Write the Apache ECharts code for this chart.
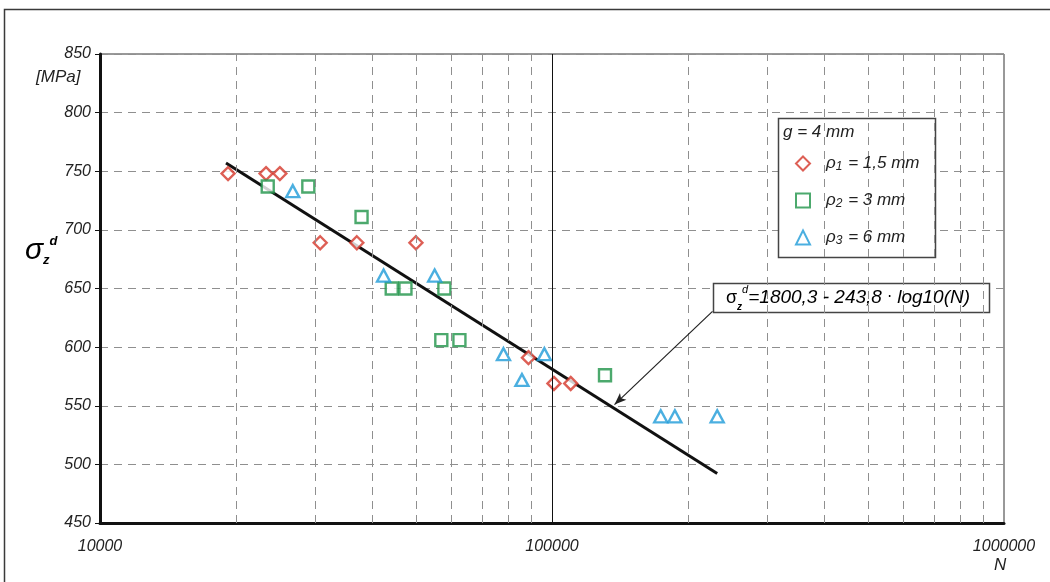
<!DOCTYPE html>
<html>
<head>
<meta charset="utf-8">
<script src="https://cdn.jsdelivr.net/npm/echarts@6/dist/echarts.min.js"></script>
<style>
  html, body { margin: 0; padding: 0; background: #fff; }
  #chart { width: 1050px; height: 582px; }
</style>
</head>
<body>
<div id="chart"></div>
<script>
// Fatigue test results: stress amplitude vs. number of cycles (log scale)
var redN   = [19200, 23300, 25000, 30700, 37000, 50000, 88700, 101000, 110000];
var redS   = [748, 748, 748, 689, 689, 689, 591, 569, 569];
var greenN = [23500, 28900, 37900, 44200, 47400, 57800, 56900, 62400, 131000];
var greenS = [737, 737, 711, 650, 650, 650, 606, 606, 576];
var blueN  = [26700, 42400, 55000, 78100, 96200, 85800, 174000, 187000, 232000];
var blueS  = [733, 661, 661, 594, 594, 572, 541, 541, 541];

// Regression line end points: sigma = 1800,3 - 243,8 * log10(N)
var fitN = [19000, 232000];
var fitS = [757.1, 492.2];

var seriesNames = ['ρ1 = 1,5 mm', 'ρ2 = 3 mm', 'ρ3 = 6 mm'];
var legendRich  = ['{a|ρ}{b|1}{a| = 1,5 mm}', '{a|ρ}{b|2}{a| = 3 mm}', '{a|ρ}{b|3}{a| = 6 mm}'];

var xTicks = [10000, 100000, 1000000];
var yTicks = [450, 500, 550, 600, 650, 700, 750, 800, 850];
var minorX = [20000, 30000, 40000, 50000, 60000, 70000, 80000, 90000,
              200000, 300000, 400000, 500000, 600000, 700000, 800000, 900000];

function pairs(xs, ys) { return xs.map(function (x, i) { return [x, ys[i]]; }); }

var FONT = '"Liberation Sans", Arial, sans-serif';
var RED = '#d4372b', GREEN = '#1f9448', BLUE = '#1e9bd8';

var chart = echarts.init(document.getElementById('chart'), null, { renderer: 'canvas' });

chart.setOption({
  backgroundColor: '#fff',
  animation: false,
  grid: {
    left: 100, top: 54, width: 904, height: 469,
    show: true, borderColor: '#333', borderWidth: 1, backgroundColor: 'transparent',
    containLabel: false, outerBoundsMode: 'none'
  },
  xAxis: {
    type: 'log', logBase: 10, min: xTicks[0], max: xTicks[xTicks.length - 1],
    axisLine: { lineStyle: { color: '#111', width: 3 } },
    axisTick: { show: false },
    splitLine: { show: false },
    axisLabel: {
      margin: 16, color: '#222', fontFamily: FONT, fontSize: 16, fontStyle: 'italic',
      formatter: function (v) { return String(Math.round(v)); }
    }
  },
  yAxis: {
    type: 'value', min: yTicks[0], max: yTicks[yTicks.length - 1], interval: 50,
    axisLine: { show: true, lineStyle: { color: '#111', width: 3 } },
    axisTick: { show: true, length: 5, lineStyle: { color: '#111', width: 1 } },
    splitLine: { show: true, lineStyle: { color: '#8f8f8f', width: 1, type: [8, 6] } },
    axisLabel: { margin: 9, color: '#222', fontFamily: FONT, fontSize: 16, fontStyle: 'italic' }
  },
  legend: {
    orient: 'vertical', left: 795, top: 154, padding: 0, itemGap: 18, z: 20,
    itemWidth: 14, itemHeight: 14,
    data: seriesNames,
    formatter: function (name) { return legendRich[seriesNames.indexOf(name)]; },
    textStyle: {
      padding: [0, 0, 0, 11],
      rich: {
        a: { fontFamily: FONT, fontSize: 17, fontStyle: 'italic', color: '#222', lineHeight: 19 },
        b: { fontFamily: FONT, fontSize: 12, fontStyle: 'italic', color: '#222', lineHeight: 19, verticalAlign: 'bottom', padding: [7, 1, 0, 0] }
      }
    }
  },
  series: [
    {
      // grid lines between decades and the solid line at N = 100000
      type: 'line', data: [], silent: true, z: 1,
      markLine: {
        silent: true, symbol: 'none', animation: false, label: { show: false },
        lineStyle: { color: '#8f8f8f', width: 1, type: [8, 6] },
        data: minorX.map(function (v) { return { xAxis: v }; }).concat([
          { xAxis: xTicks[1], lineStyle: { color: '#111', width: 1, type: 'solid' } }
        ])
      }
    },
    {
      type: 'line', name: 'fit', data: pairs(fitN, fitS), showSymbol: false, symbol: 'none',
      lineStyle: { color: '#111', width: 3 }, z: 2, silent: true,
      markLine: {
        silent: true, animation: false, label: { show: false },
        symbol: ['none', 'arrow'], symbolSize: [7, 12],
        lineStyle: { color: '#222', width: 1.2, type: 'solid' },
        data: [[{ coord: [226500, 630.5] }, { coord: [137500, 551] }]]
      }
    },
    {
      type: 'scatter', name: seriesNames[0], data: pairs(redN, redS), z: 3,
      symbol: 'diamond', symbolSize: [13, 13],
      itemStyle: { color: '#fff', borderColor: RED, borderWidth: 2.4 }
    },
    {
      type: 'scatter', name: seriesNames[1], data: pairs(greenN, greenS), z: 3,
      symbol: 'rect', symbolSize: 12,
      itemStyle: { color: '#fff', borderColor: GREEN, borderWidth: 2.4 }
    },
    {
      type: 'scatter', name: seriesNames[2], data: pairs(blueN, blueS), z: 3,
      symbol: 'triangle', symbolSize: [13, 12],
      itemStyle: { color: '#fff', borderColor: BLUE, borderWidth: 2.4 }
    }
  ],
  graphic: [
    // outer frame
    { type: 'rect', z: 0, silent: true,
      shape: { x: 4.5, y: 9.5, width: 1100, height: 700 },
      style: { fill: 'none', stroke: '#3a3a3a', lineWidth: 1.5 } },
    // y axis title
    { type: 'text', left: 25, top: 235, z: 10,
      style: {
        text: '{s|σ}{z|z}{d|d}',
        rich: {
          s: { fontFamily: FONT, fontSize: 30, fontStyle: 'italic', color: '#111', lineHeight: 32 },
          z: { fontFamily: FONT, fontSize: 13, fontStyle: 'italic', fontWeight: 'bold', color: '#111', lineHeight: 32, verticalAlign: 'bottom', padding: [12, 0, 0, 0] },
          d: { fontFamily: FONT, fontSize: 13, fontStyle: 'italic', fontWeight: 'bold', color: '#111', lineHeight: 32, verticalAlign: 'top', padding: [0, 0, 14, 0] }
        }
      } },
    { type: 'text', left: 36, top: 69, z: 10,
      style: { text: '[MPa]', fontFamily: FONT, fontSize: 17, fontStyle: 'italic', fill: '#222' } },
    { type: 'text', left: 994, top: 557, z: 10,
      style: { text: 'N', fontFamily: FONT, fontSize: 17, fontStyle: 'italic', fill: '#222' } },
    // legend frame and heading
    { type: 'rect', z: 5, silent: true,
      shape: { x: 778.5, y: 118.5, width: 157, height: 139 },
      style: { fill: '#fff', stroke: '#444', lineWidth: 1.5 } },
    { type: 'text', left: 783, top: 124, z: 6,
      style: { text: 'g = 4 mm', fontFamily: FONT, fontSize: 17, fontStyle: 'italic', fill: '#222' } },
    // regression equation box
    { type: 'rect', z: 5, silent: true,
      shape: { x: 713.5, y: 283.5, width: 276, height: 29 },
      style: { fill: '#fff', stroke: '#444', lineWidth: 1.5 } },
    { type: 'text', left: 726, top: 284, z: 6,
      style: {
        text: '{s|σ}{z|z}{d|d}{e|=1800,3 - 243,8 }{m|·}{e| log10(N)}',
        rich: {
          s: { fontFamily: FONT, fontSize: 18, color: '#111', lineHeight: 28 },
          z: { fontFamily: FONT, fontSize: 10, fontWeight: 'bold', fontStyle: 'italic', color: '#111', lineHeight: 28, verticalAlign: 'bottom', padding: [8, 0, 0, 0] },
          d: { fontFamily: FONT, fontSize: 11, fontStyle: 'italic', color: '#111', lineHeight: 28, verticalAlign: 'top', padding: [0, 0, 12, 0] },
          e: { fontFamily: FONT, fontSize: 19, fontStyle: 'italic', color: '#111', lineHeight: 28 },
          m: { fontFamily: '"DejaVu Sans", sans-serif', fontSize: 15, color: '#111', lineHeight: 28 }
        }
      } }
  ]
});
</script>
</body>
</html>
